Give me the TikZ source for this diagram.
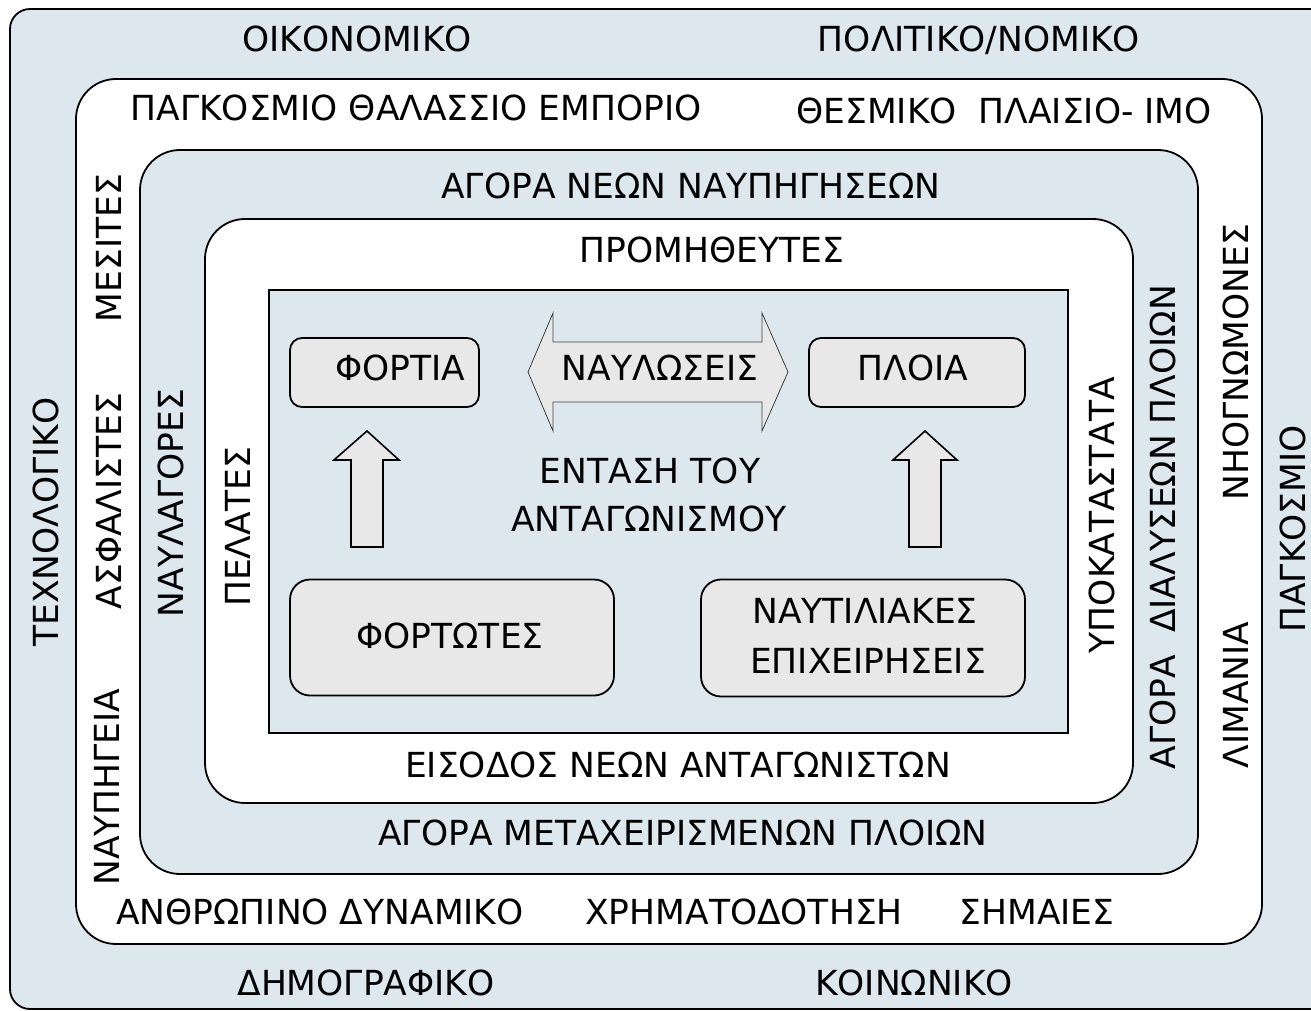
\documentclass[tikz,border=0pt]{standalone}
\usepackage{fontspec}
\setmainfont{DejaVu Sans}
\definecolor{bgblue}{RGB}{221,231,238}
\definecolor{boxgray}{RGB}{232,232,232}
\begin{document}
\begin{tikzpicture}[x=1pt,y=-1pt,
  frame/.style={draw=black, line width=1.8pt},
  sbox/.style={draw=black, line width=1.8pt, fill=boxgray, inner sep=0pt},
  lbl/.style={font=\fontsize{34.5}{40}\selectfont, inner sep=0pt, anchor=base},
  vlbl/.style={lbl, rotate=90},
  uparrow/.style={draw=black, line width=1.6pt, fill=boxgray, line join=miter},
  dblarrow/.style={draw=black!75, line width=0.8pt, fill=boxgray, line join=miter}]
\useasboundingbox (0,0) rectangle (1311,1011);
\clip (0,0) rectangle (1311,1011);
% nested frames
\draw[frame, fill=bgblue, rounded corners=20pt] (10,9) rectangle (1340,1009);
\draw[frame, fill=white, rounded corners=40pt] (76,79) rectangle (1262,944);
\draw[frame, fill=bgblue, rounded corners=40pt] (140,150) rectangle (1198,874);
\draw[frame, fill=white, rounded corners=40pt] (205,219) rectangle (1133,803);
\draw[frame, fill=bgblue] (269,290) rectangle (1068,733);
% inner boxes
\node[sbox, rounded corners=12pt, minimum width=189pt, minimum height=69pt] (fortia) at (384.5,372.5) {};
\node[sbox, rounded corners=12pt, minimum width=216pt, minimum height=69pt] (ploia) at (917,372.5) {};
\node[sbox, rounded corners=20pt, minimum width=324pt, minimum height=116pt] (fortotes) at (452,637.5) {};
\node[sbox, rounded corners=20pt, minimum width=324pt, minimum height=117pt] (naut) at (863,638) {};
% block arrows
\draw[dblarrow] (528,372) -- (553,313) -- (553,342) -- (762,342) -- (762,313) -- (788,372)
  -- (762,431) -- (762,402) -- (553,402) -- (553,431) -- cycle;
\draw[uparrow] (367,431) -- (399,460) -- (383,460) -- (383,547) -- (351,547) -- (351,460) -- (334,460) -- cycle;
\draw[uparrow] (925,431) -- (957,460) -- (941,460) -- (941,547) -- (909,547) -- (909,460) -- (893,460) -- cycle;
% inner texts
\node[lbl] (t1) at (400,380) {ΦΟΡΤΙΑ};
\node[lbl] (t2) at (913,380) {ΠΛΟΙΑ};
\node[lbl] (t3) at (660,380) {ΝΑΥΛΩΣΕΙΣ};
\node[lbl] (t4) at (650,483) {ΕΝΤΑΣΗ ΤΟΥ};
\node[lbl] (t5) at (649,531) {ΑΝΤΑΓΩΝΙΣΜΟΥ};
\node[lbl] (t6) at (450,648) {ΦΟΡΤΩΤΕΣ};
\node[lbl] (t7) at (865,623) {ΝΑΥΤΙΛΙΑΚΕΣ};
\node[lbl] (t8) at (868,673) {ΕΠΙΧΕΙΡΗΣΕΙΣ};
% horizontal ring texts
\node[lbl] (h1) at (357,52) {ΟΙΚΟΝΟΜΙΚΟ};
\node[lbl] (h2) at (979,52) {ΠΟΛΙΤΙΚΟ/ΝΟΜΙΚΟ};
\node[lbl] (h3) at (416,121) {ΠΑΓΚΟΣΜΙΟ ΘΑΛΑΣΣΙΟ ΕΜΠΟΡΙΟ};
\node[lbl] (h4) at (1004,124) {ΘΕΣΜΙΚΟ\ \ ΠΛΑΙΣΙΟ- IMO};
\node[lbl] (h5) at (691,199) {ΑΓΟΡΑ ΝΕΩΝ ΝΑΥΠΗΓΗΣΕΩΝ};
\node[lbl] (h6) at (712,262) {ΠΡΟΜΗΘΕΥΤΕΣ};
\node[lbl] (h7) at (678,777) {ΕΙΣΟΔΟΣ ΝΕΩΝ ΑΝΤΑΓΩΝΙΣΤΩΝ};
\node[lbl] (h8) at (683,845) {ΑΓΟΡΑ ΜΕΤΑΧΕΙΡΙΣΜΕΝΩΝ ΠΛΟΙΩΝ};
\node[lbl] (h9) at (320,924) {ΑΝΘΡΩΠΙΝΟ ΔΥΝΑΜΙΚΟ};
\node[lbl] (h10) at (744,924) {ΧΡΗΜΑΤΟΔΟΤΗΣΗ};
\node[lbl] (h11) at (1037,924) {ΣΗΜΑΙΕΣ};
\node[lbl] (h12) at (366,995) {ΔΗΜΟΓΡΑΦΙΚΟ};
\node[lbl] (h13) at (914,995) {ΚΟΙΝΩΝΙΚΟ};
% vertical ring texts
\node[vlbl] (v1) at (58,522) {ΤΕΧΝΟΛΟΓΙΚΟ};
\node[vlbl] (v2) at (121,248) {ΜΕΣΙΤΕΣ};
\node[vlbl] (v3) at (121,501) {ΑΣΦΑΛΙΣΤΕΣ};
\node[vlbl] (v4) at (119,787) {ΝΑΥΠΗΓΕΙΑ};
\node[vlbl] (v5) at (183,503) {ΝΑΥΛΑΓΟΡΕΣ};
\node[vlbl] (v6) at (250,527) {ΠΕΛΑΤΕΣ};
\node[vlbl] (v7) at (1114,515) {ΥΠΟΚΑΤΑΣΤΑΤΑ};
\node[vlbl] (v8) at (1175,527) {ΑΓΟΡΑ\ \ ΔΙΑΛΥΣΕΩΝ ΠΛΟΙΩΝ};
\node[vlbl] (v9) at (1248,362) {ΝΗΟΓΝΩΜΟΝΕΣ};
\node[vlbl] (v10) at (1248,695) {ΛΙΜΑΝΙΑ};
\node[vlbl] (v11) at (1305,529) {ΠΑΓΚΟΣΜΙΟ};
\end{tikzpicture}
\end{document}
